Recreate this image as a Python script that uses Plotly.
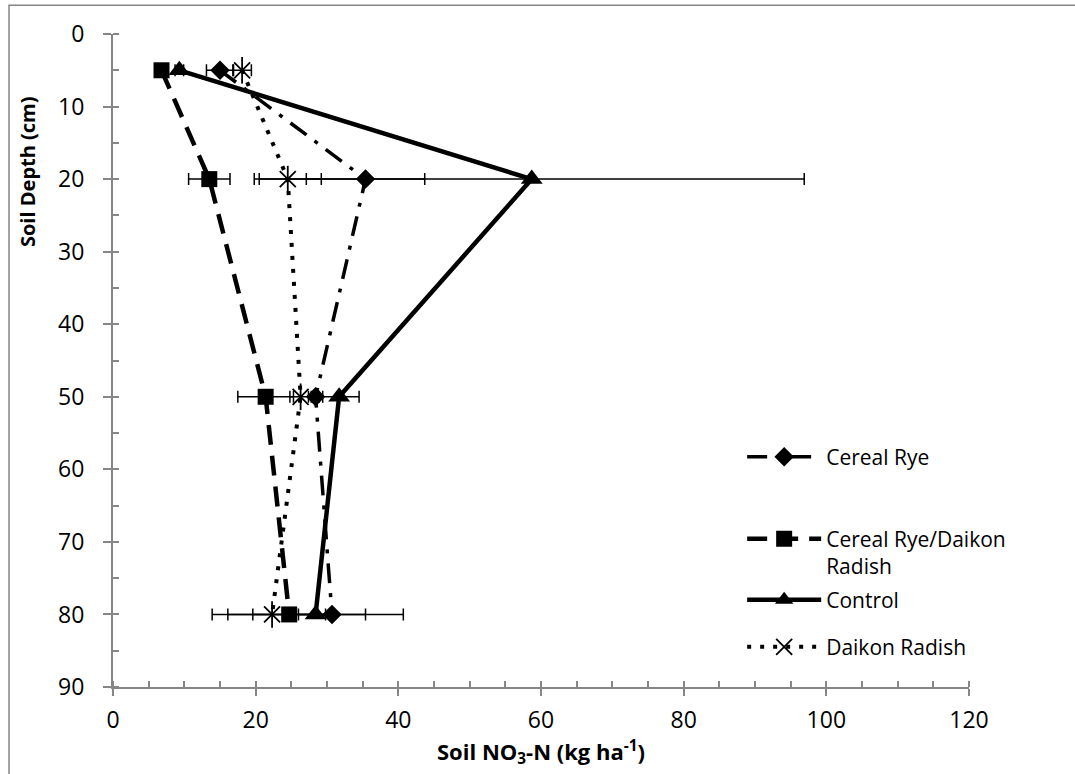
import plotly.graph_objects as go

# Sampling depths (cm)
depth = [5, 20, 50, 80]

# Soil NO3-N (kg ha-1) by treatment, with standard error
cereal_rye = [15.0, 35.4, 28.4, 30.7]
cereal_rye_err = [1.9, 8.3, 1.0, 4.7]

rye_radish = [6.8, 13.5, 21.4, 24.7]
rye_radish_err = [0.5, 2.9, 3.9, 5.1]

control = [9.3, 58.7, 31.7, 28.4]
control_err = [0.6, 38.2, 2.8, 12.3]

daikon = [18.1, 24.5, 26.3, 22.3]
daikon_err = [1.3, 4.7, 1.5, 8.4]

x_ticks = [0, 20, 40, 60, 80, 100, 120]
y_ticks = [0, 10, 20, 30, 40, 50, 60, 70, 80, 90]

FONT = "Open Sans"
GRAY = "#868686"


def err(values):
    return dict(type="data", array=values, color="black", thickness=1.5, width=6)


fig = go.Figure()

fig.add_trace(go.Scatter(
    x=cereal_rye, y=depth, name="Cereal Rye", legend="legend",
    mode="lines+markers",
    line=dict(color="black", width=3.5, dash="20px,10px,4px,10px"),
    marker=dict(symbol="diamond", size=15, color="black"),
    error_x=err(cereal_rye_err),
))

fig.add_trace(go.Scatter(
    x=rye_radish, y=depth, name="Cereal Rye/Daikon<br>Radish", legend="legend2",
    mode="lines+markers",
    line=dict(color="black", width=4.5, dash="20px,11px"),
    marker=dict(symbol="square", size=16, color="black"),
    error_x=err(rye_radish_err),
))

fig.add_trace(go.Scatter(
    x=control, y=depth, name="Control", legend="legend3",
    mode="lines+markers",
    line=dict(color="black", width=4.5),
    marker=dict(symbol="triangle-up", size=19, color="black"),
    error_x=err(control_err),
))

fig.add_trace(go.Scatter(
    x=daikon, y=depth, name="Daikon Radish", legend="legend4",
    mode="lines+markers",
    line=dict(color="black", width=4, dash="4px,9px"),
    marker=dict(symbol="x-thin-open", size=16, color="black",
                line=dict(color="black", width=1.8)),
    error_x=err(daikon_err),
))

# vertical stroke that turns the daikon x-marker into an asterisk
fig.add_trace(go.Scatter(
    x=daikon, y=depth, mode="markers", showlegend=False, hoverinfo="skip",
    marker=dict(symbol="line-ns-open", size=19, color="black",
                line=dict(color="black", width=1.8)),
))

# empty trace on the overlay axes that carry the inner half of major ticks
fig.add_trace(go.Scatter(
    x=[None], y=[None], xaxis="x2", yaxis="y2",
    showlegend=False, hoverinfo="skip",
))

axis_common = dict(
    showgrid=False, zeroline=False, showline=True,
    linecolor=GRAY, linewidth=2,
    tickcolor=GRAY, tickwidth=1.5,
    tickfont=dict(family=FONT, size=23, color="black"),
)


def legend_at(y):
    return dict(
        x=0.735, y=y, xanchor="left", yanchor="middle",
        bgcolor="rgba(0,0,0,0)",
        font=dict(family=FONT, size=21, color="black"),
        valign="top", itemwidth=74,
    )


fig.update_layout(
    width=1075, height=774,
    margin=dict(l=113, r=106, t=34, b=87),
    paper_bgcolor="white", plot_bgcolor="white",
    font=dict(family=FONT, color="black"),
    xaxis=dict(
        **axis_common,
        range=[0, 120], tickvals=x_ticks, ticks="outside", ticklen=7,
        ticklabelstandoff=4,
        minor=dict(dtick=5, tick0=0, ticks="inside", ticklen=6,
                   tickcolor=GRAY, tickwidth=1.5),
        title=dict(text="<b>Soil NO<sub>3</sub>-N (kg ha<sup>-1</sup>)</b>",
                   font=dict(family=FONT, size=22, color="black"), standoff=4),
    ),
    yaxis=dict(
        **axis_common,
        range=[90, 0], tickvals=y_ticks, ticks="outside", ticklen=8,
        ticklabelstandoff=14,
        minor=dict(dtick=5, tick0=0, ticks="inside", ticklen=6,
                   tickcolor=GRAY, tickwidth=1.5),
    ),
    xaxis2=dict(
        overlaying="x", range=[0, 120], tickvals=x_ticks, ticks="inside",
        ticklen=6, tickcolor=GRAY, tickwidth=1.5, showticklabels=False,
        showgrid=False, zeroline=False, showline=False, side="bottom",
        anchor="y2",
    ),
    yaxis2=dict(
        overlaying="y", range=[90, 0], tickvals=y_ticks, ticks="inside",
        ticklen=6, tickcolor=GRAY, tickwidth=1.5, showticklabels=False,
        showgrid=False, zeroline=False, showline=False, side="left",
        anchor="x2",
    ),
    legend=legend_at(0.352),
    legend2=legend_at(0.206),
    legend3=legend_at(0.133),
    legend4=legend_at(0.061),
    annotations=[dict(
        text="<b>Soil Depth (cm)</b>", textangle=-90,
        xref="paper", yref="paper", x=-0.099, y=0.789,
        xanchor="center", yanchor="middle", showarrow=False,
        font=dict(family=FONT, size=20, color="black"),
    )],
    shapes=[dict(
        type="rect", xref="paper", yref="paper",
        x0=-0.1215, x1=1.14, y0=-0.15, y1=1.044,
        line=dict(color=GRAY, width=1.5), fillcolor="rgba(0,0,0,0)",
        layer="below",
    )],
    showlegend=True,
)

fig.write_html("out.html")
